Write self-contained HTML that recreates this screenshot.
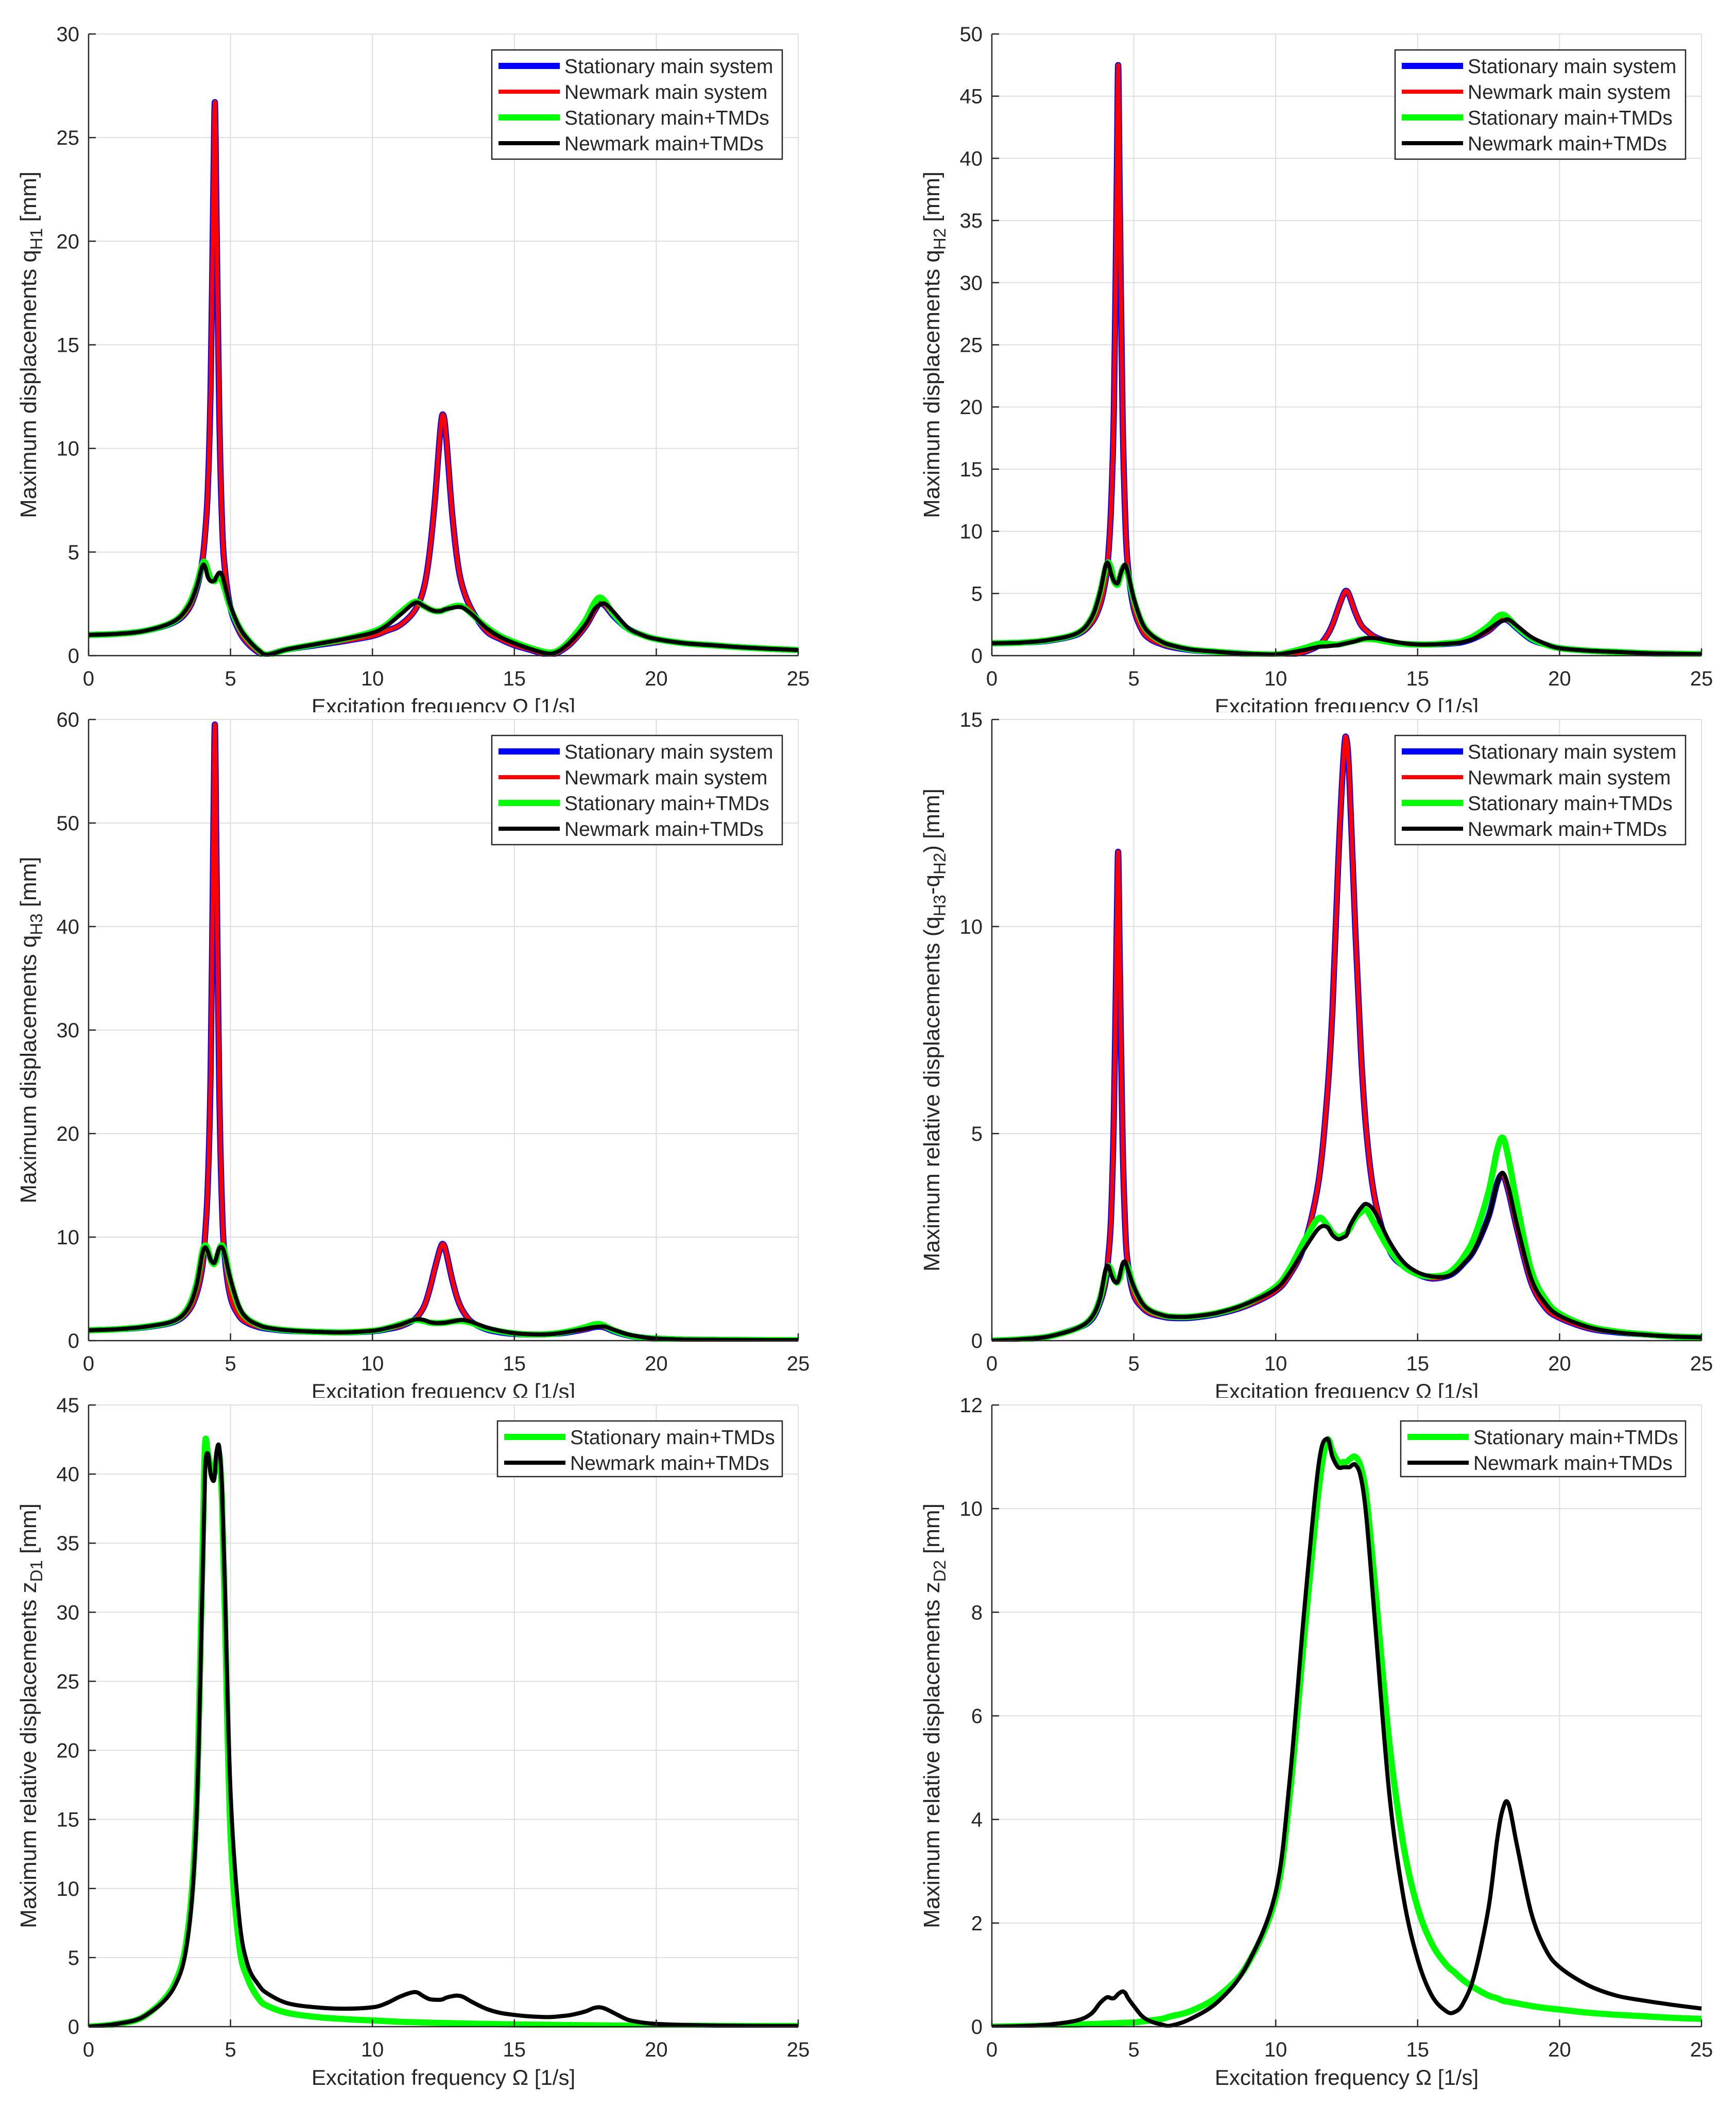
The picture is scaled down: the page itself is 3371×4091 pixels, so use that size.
<!DOCTYPE html>
<html><head><meta charset="utf-8"><style>
html,body{margin:0;padding:0;background:#fff}
svg{display:block}
text{font-family:"Liberation Sans",Arial,sans-serif;fill:#262626}
</style></head><body>
<svg id="fig" xmlns="http://www.w3.org/2000/svg" width="3371" height="4091" viewBox="0 0 3371 4091"></svg>
<script>
// shared excitation frequency samples [1/s]
const freq = [0,1,2,3,3.5,3.8,4.0,4.1,4.2,4.3,4.4,4.45,4.5,4.6,4.7,4.8,5,5.3,5.6,6,6.3,7,8,9,10,10.5,11,11.5,11.8,12,12.2,12.4,12.5,12.6,12.8,13,13.2,13.5,14,14.5,15,15.5,16,16.3,16.6,17,17.5,17.8,18,18.2,18.5,19,19.5,20,21,22,23,24,25];
const xTicks = [0,5,10,15,20,25];
const legendLabels4 = ["Stationary main system","Newmark main system","Stationary main+TMDs","Newmark main+TMDs"];
const legendLabels2 = ["Stationary main+TMDs","Newmark main+TMDs"];

// panel 1: q_H1
const p1StatMain = [1.0,1.05,1.2,1.6,2.2,3.2,4.5,5.8,8,13,23,26.7,22,12,6.5,4.2,2.3,1.2,0.6,0.15,0.05,0.3,0.5,0.7,0.95,1.2,1.5,2.2,3.2,4.8,7.5,11,11.6,10.5,7,4.5,3.2,2.2,1.2,0.8,0.5,0.3,0.1,0.05,0.2,0.6,1.4,2.1,2.5,2.4,1.9,1.3,1.0,0.8,0.6,0.5,0.4,0.33,0.27];
const p1NewMain = [1.0,1.05,1.2,1.6,2.2,3.2,4.5,5.8,8,13,23,26.7,22,12,6.5,4.2,2.3,1.2,0.6,0.15,0.05,0.3,0.5,0.7,0.95,1.2,1.5,2.2,3.2,4.8,7.5,11,11.6,10.5,7,4.5,3.2,2.2,1.2,0.8,0.5,0.3,0.1,0.05,0.2,0.6,1.4,2.1,2.5,2.4,1.9,1.3,1.0,0.8,0.6,0.5,0.4,0.33,0.27];
const p1StatTmd = [1.0,1.05,1.2,1.65,2.4,3.4,4.4,4.5,4.1,3.7,3.6,3.6,3.7,3.8,3.6,3.2,2.3,1.4,0.8,0.25,0.05,0.3,0.55,0.8,1.15,1.5,2.1,2.6,2.4,2.25,2.15,2.15,2.2,2.25,2.35,2.4,2.35,2.0,1.4,0.95,0.65,0.4,0.2,0.15,0.3,0.8,1.7,2.5,2.8,2.6,2.0,1.3,1.0,0.8,0.6,0.5,0.4,0.33,0.27];
const p1NewTmd = [1.0,1.05,1.2,1.65,2.35,3.3,4.3,4.3,3.8,3.6,3.6,3.65,3.8,4.0,3.9,3.4,2.4,1.4,0.8,0.25,0.05,0.3,0.55,0.8,1.1,1.45,2.0,2.55,2.4,2.25,2.15,2.15,2.2,2.25,2.3,2.35,2.3,2.0,1.35,0.9,0.6,0.35,0.15,0.1,0.25,0.7,1.5,2.2,2.45,2.5,2.1,1.35,1.0,0.8,0.6,0.5,0.4,0.33,0.27];
const p1YTicks = [0,5,10,15,20,25,30];

// panel 2: q_H2
const p2StatMain = [1.0,1.05,1.2,1.7,2.6,4,6,8,12,20,38,47.5,38,20,11,7,3.8,2,1.3,0.9,0.7,0.45,0.3,0.15,0.05,0.1,0.3,0.8,1.6,2.5,3.8,5,5.2,4.8,3.5,2.5,2,1.5,1.1,0.95,0.9,0.9,0.95,1.0,1.1,1.4,2.0,2.6,2.9,2.8,2.2,1.3,0.9,0.6,0.4,0.3,0.2,0.15,0.12];
const p2NewMain = [1.0,1.05,1.2,1.7,2.6,4,6,8,12,20,38,47.5,38,20,11,7,3.8,2,1.3,0.9,0.7,0.45,0.3,0.15,0.05,0.1,0.3,0.8,1.6,2.5,3.8,5,5.2,4.8,3.5,2.5,2,1.5,1.1,0.95,0.9,0.9,0.95,1.0,1.1,1.4,2.0,2.6,2.9,2.8,2.2,1.3,0.9,0.6,0.4,0.3,0.2,0.15,0.12];
const p2StatTmd = [1.0,1.05,1.25,1.8,3,5,7,7.5,7,6,5.7,5.8,6.2,7,7.2,6.5,4.5,2.6,1.7,1.1,0.85,0.5,0.3,0.15,0.1,0.3,0.6,0.95,0.95,0.9,0.9,1.0,1.05,1.1,1.2,1.3,1.35,1.3,1.1,0.95,0.9,0.9,1.0,1.05,1.2,1.6,2.4,3.1,3.3,3.0,2.3,1.4,0.9,0.6,0.4,0.3,0.2,0.15,0.12];
const p2NewTmd = [1.0,1.05,1.25,1.8,3,5,7.2,7.4,6.6,6.0,5.8,5.9,6.3,7.0,7.3,6.6,4.6,2.6,1.7,1.1,0.85,0.5,0.3,0.15,0.1,0.25,0.45,0.7,0.75,0.8,0.85,0.95,1.0,1.05,1.15,1.3,1.4,1.4,1.2,1.0,0.9,0.9,0.95,1.0,1.1,1.4,2.1,2.6,2.8,2.9,2.4,1.5,0.95,0.6,0.4,0.3,0.2,0.15,0.12];
const p2YTicks = [0,5,10,15,20,25,30,35,40,45,50];

// panel 3: q_H3
const p3StatMain = [1.0,1.1,1.3,1.8,2.8,4.5,7,10,15,26,50,59.5,48,25,13,8,4.2,2.4,1.7,1.3,1.15,0.95,0.85,0.8,0.9,1.1,1.4,2.1,3.2,4.8,7,9,9.3,8.5,6,4,2.8,1.8,1.1,0.8,0.65,0.6,0.6,0.65,0.7,0.85,1.1,1.3,1.35,1.25,0.9,0.5,0.3,0.2,0.1,0.08,0.06,0.05,0.05];
const p3NewMain = [1.0,1.1,1.3,1.8,2.8,4.5,7,10,15,26,50,59.5,48,25,13,8,4.2,2.4,1.7,1.3,1.15,0.95,0.85,0.8,0.9,1.1,1.4,2.1,3.2,4.8,7,9,9.3,8.5,6,4,2.8,1.8,1.1,0.8,0.65,0.6,0.6,0.65,0.7,0.85,1.1,1.3,1.35,1.25,0.9,0.5,0.3,0.2,0.1,0.08,0.06,0.05,0.05];
const p3StatTmd = [1.0,1.1,1.35,1.9,3.2,5.5,8.5,9.2,8.8,7.8,7.4,7.5,7.8,8.8,9.2,8.5,5.8,3.2,2.1,1.5,1.25,1.0,0.85,0.8,0.95,1.2,1.6,2.0,1.9,1.75,1.7,1.7,1.72,1.75,1.85,1.9,1.9,1.7,1.2,0.9,0.7,0.6,0.6,0.65,0.75,0.95,1.3,1.55,1.6,1.4,1.0,0.55,0.3,0.2,0.1,0.08,0.06,0.05,0.05];
const p3NewTmd = [1.0,1.1,1.35,1.9,3.1,5.3,8.3,9.0,8.6,7.8,7.5,7.6,8.0,8.9,9.0,8.3,5.9,3.3,2.1,1.5,1.25,1.0,0.85,0.8,0.95,1.2,1.55,2.05,2.0,1.8,1.7,1.7,1.72,1.75,1.85,1.95,2.0,1.8,1.3,0.95,0.72,0.62,0.6,0.63,0.72,0.9,1.15,1.3,1.35,1.35,1.05,0.6,0.35,0.2,0.1,0.08,0.06,0.05,0.05];
const p3YTicks = [0,10,20,30,40,50,60];

// panel 4: q_H3 - q_H2
const p4StatMain = [0,0.03,0.1,0.3,0.5,0.9,1.4,2,3,5.5,10,11.8,9.5,5,2.7,1.8,1.1,0.8,0.65,0.58,0.55,0.55,0.65,0.85,1.2,1.6,2.3,3.8,5.8,8,11.5,14.2,14.5,13.5,10,7,5,3.4,2.2,1.8,1.6,1.5,1.55,1.65,1.85,2.2,3.0,3.8,4.0,3.6,2.7,1.4,0.8,0.55,0.3,0.2,0.15,0.1,0.08];
const p4NewMain = [0,0.03,0.1,0.3,0.5,0.9,1.4,2,3,5.5,10,11.8,9.5,5,2.7,1.8,1.1,0.8,0.65,0.58,0.55,0.55,0.65,0.85,1.2,1.6,2.3,3.8,5.8,8,11.5,14.2,14.5,13.5,10,7,5,3.4,2.2,1.8,1.6,1.5,1.55,1.65,1.85,2.2,3.0,3.8,4.0,3.6,2.7,1.4,0.8,0.55,0.3,0.2,0.15,0.1,0.08];
const p4StatTmd = [0,0.03,0.1,0.3,0.55,1.0,1.6,1.8,1.7,1.5,1.4,1.45,1.5,1.75,1.85,1.75,1.3,0.9,0.72,0.62,0.58,0.58,0.68,0.9,1.3,1.75,2.4,2.95,2.8,2.6,2.5,2.55,2.6,2.7,2.95,3.1,3.15,2.8,2.2,1.8,1.6,1.55,1.6,1.75,2.0,2.5,3.6,4.6,4.9,4.4,3.3,1.7,1.0,0.65,0.35,0.22,0.15,0.1,0.08];
const p4NewTmd = [0,0.03,0.1,0.3,0.55,1.0,1.7,1.8,1.6,1.45,1.4,1.45,1.55,1.85,1.9,1.7,1.3,0.9,0.72,0.62,0.58,0.58,0.68,0.9,1.25,1.65,2.2,2.7,2.75,2.55,2.45,2.5,2.55,2.75,3.0,3.2,3.3,3.1,2.4,1.9,1.65,1.55,1.55,1.65,1.85,2.2,3.0,3.8,4.05,3.7,2.8,1.5,0.9,0.6,0.33,0.2,0.14,0.1,0.08];
const p4YTicks = [0,5,10,15];

// panel 5: z_D1
const p5StatTmd = [0,0.2,0.8,3,7,16,33,42,41.5,40.5,40,40.2,41,41.5,38,30,14,6,3.5,2.0,1.5,1.0,0.7,0.55,0.45,0.4,0.35,0.32,0.3,0.29,0.28,0.27,0.27,0.26,0.25,0.24,0.23,0.22,0.2,0.18,0.16,0.15,0.14,0.13,0.12,0.11,0.1,0.1,0.09,0.09,0.08,0.08,0.07,0.07,0.06,0.06,0.05,0.05,0.05];
const p5NewTmd = [0,0.2,0.8,2.8,6.5,15,31,40,41.5,40,39.5,40,41.5,42,39,32,17,8,4.5,3.0,2.4,1.7,1.4,1.3,1.4,1.7,2.2,2.5,2.2,2.0,1.95,1.95,2.0,2.1,2.2,2.25,2.15,1.8,1.3,1.0,0.85,0.75,0.7,0.7,0.75,0.85,1.1,1.35,1.4,1.3,1.0,0.5,0.3,0.2,0.12,0.08,0.06,0.05,0.05];
const p5YTicks = [0,5,10,15,20,25,30,35,40,45];

// panel 6: z_D2
const p6StatTmd = [0,0.01,0.02,0.04,0.05,0.055,0.06,0.062,0.064,0.066,0.068,0.07,0.072,0.074,0.076,0.078,0.08,0.1,0.12,0.15,0.2,0.3,0.6,1.2,2.5,4.5,7.5,10.3,11.3,11.1,10.9,10.9,10.9,10.95,11.0,10.8,10.2,8.5,5.5,3.5,2.3,1.6,1.2,1.05,0.9,0.75,0.6,0.55,0.5,0.48,0.45,0.4,0.36,0.33,0.27,0.23,0.2,0.17,0.15];
const p6NewTmd = [0,0.01,0.04,0.12,0.25,0.45,0.55,0.57,0.55,0.55,0.6,0.63,0.65,0.68,0.65,0.55,0.4,0.2,0.1,0.04,0.02,0.15,0.5,1.2,2.6,4.8,8,10.8,11.35,11.0,10.8,10.8,10.8,10.8,10.85,10.6,9.8,7.8,4.5,2.5,1.3,0.6,0.3,0.28,0.45,1.0,2.3,3.6,4.2,4.3,3.5,2.2,1.5,1.15,0.8,0.6,0.5,0.42,0.35];
const p6YTicks = [0,2,4,6,8,10,12];

const NS = "http://www.w3.org/2000/svg";
const fig = document.getElementById('fig');
function mk(tag, attrs, parent){
  const e = document.createElementNS(NS, tag);
  for (const k in attrs) e.setAttribute(k, attrs[k]);
  (parent||fig).appendChild(e);
  return e;
}
const STYLE = {
  statMain:{color:"#0000ff", w:12},
  newMain:{color:"#ff0000", w:8},
  statTmd:{color:"#00ff00", w:12},
  newTmd:{color:"#000000", w:8}
};
function smoothPath(pts){
  let d = "M" + pts[0][0].toFixed(1) + "," + pts[0][1].toFixed(1);
  for (let i=0;i<pts.length-1;i++){
    const p0=pts[Math.max(0,i-1)], p1=pts[i], p2=pts[i+1], p3=pts[Math.min(pts.length-1,i+2)];
    const c1x=p1[0]+(p2[0]-p0[0])/6, c1y=p1[1]+(p2[1]-p0[1])/6;
    const c2x=p2[0]-(p3[0]-p1[0])/6, c2y=p2[1]-(p3[1]-p1[1])/6;
    d += " C"+c1x.toFixed(1)+","+c1y.toFixed(1)+" "+c2x.toFixed(1)+","+c2y.toFixed(1)+" "+p2[0].toFixed(1)+","+p2[1].toFixed(1);
  }
  return d;
}
function drawPanel(id, L, T, W, H, yTicks, ylab, series, legendLabels, clipTop){
  const g = mk('g', {});
  
  
  const xmax = 25, ymax = yTicks[yTicks.length-1];
  const sx = v => L + v/xmax*W;
  const sy = v => T + H - v/ymax*H;
  const grid = mk('g', {stroke:"#dedede","stroke-width":2}, g);
  
  
  xTicks.forEach(t => { if (t>0) mk('line',{x1:sx(t),y1:T,x2:sx(t),y2:T+H},grid); });
  yTicks.forEach(t => { if (t>0) mk('line',{x1:L,y1:sy(t),x2:L+W,y2:sy(t)},grid); });
  const cid = 'clip-'+id;
  const cp = mk('clipPath',{id:cid}, g);
  mk('rect',{x:L,y:T-2,width:W+2,height:H+4},cp);
  const lines = mk('g',{"clip-path":"url(#"+cid+")",fill:"none","stroke-linejoin":"round","stroke-linecap":"butt"}, g);
  
  
  series.forEach(s => {
    const n = Math.min(freq.length, s.data.length);
    const pts = [];
    for (let i=0;i<n;i++) pts.push([sx(freq[i]), sy(s.data[i])]);
    const p = mk('path',{d:smoothPath(pts),stroke:STYLE[s.kind].color,"stroke-width":STYLE[s.kind].w},lines);
    
    
  });
  const ax = mk('g',{stroke:"#262626","stroke-width":2.5,fill:"none"}, g);
  
  
  mk('line',{x1:L,y1:T,x2:L,y2:T+H},ax);
  mk('line',{x1:L,y1:T+H,x2:L+W,y2:T+H},ax);
  xTicks.forEach(t => mk('line',{x1:sx(t),y1:T+H,x2:sx(t),y2:T+H-14},ax));
  yTicks.forEach(t => mk('line',{x1:L,y1:sy(t),x2:L+14,y2:sy(t)},ax));
  xTicks.forEach(t => {
    const e = mk('text',{x:sx(t),y:T+H+58,"font-size":40,"text-anchor":"middle"},g);
    e.textContent = t;
    
    
  });
  yTicks.forEach(t => {
    const e = mk('text',{x:L-18,y:sy(t)+14,"font-size":40,"text-anchor":"end"},g);
    e.textContent = t;
    
    
  });
  const xcid = 'xclip-'+id;
  const xcp = mk('clipPath',{id:xcid}, g);
  mk('rect',{x:L-200,y:T+H,width:W+400,height:clipTop-(T+H)},xcp);
  const xl = mk('text',{x:L+W/2,y:T+H+113,"font-size":42,"text-anchor":"middle","clip-path":"url(#"+xcid+")"},g);
  xl.textContent = "Excitation frequency \u03A9 [1/s]";
  
  
  const yx = L - 102, yc = T + H/2;
  const yl = mk('text',{x:yx,y:yc,"font-size":44,"text-anchor":"middle",transform:"rotate(-90 "+yx+" "+yc+")"},g);
  
  
  ylab.forEach(part => {
    const ts = mk('tspan', part.sub ? {"font-size":33,dy:12} : (part.up ? {dy:-12} : {}), yl);
    ts.textContent = part.t;
  });
  const n = legendLabels.length;
  const lw = n===4 ? 564 : 553, lh = n===4 ? 212 : 108;
  const lx = L + W - 31 - lw, ly = T + 31;
  const lg = mk('g',{},g);
  
  
  mk('rect',{x:lx,y:ly,width:lw,height:lh,fill:"#fff",stroke:"#262626","stroke-width":2.5},lg);
  const kinds = n===4 ? ["statMain","newMain","statTmd","newTmd"] : ["statTmd","newTmd"];
  legendLabels.forEach((lab,i) => {
    const cy = ly + 31 + i*50;
    const ent = mk('g',{},lg);
    
    
    mk('line',{x1:lx+13,y1:cy,x2:lx+132,y2:cy,stroke:STYLE[kinds[i]].color,"stroke-width":STYLE[kinds[i]].w},ent);
    const t = mk('text',{x:lx+141,y:cy+14,"font-size":39,fill:"#000"},ent);
    t.textContent = lab;
  });
}
const LX = 172, RX = 1926, PW = 1378, PH = 1207;
const R1 = 66, R2 = 1397, R3 = 2728;
drawPanel('panel-qh1', LX, R1, PW, PH, p1YTicks,
  [{t:"Maximum displacements q"},{t:"H1",sub:true},{t:" [mm]",up:true}],
  [{kind:"statMain",name:"stationary-main-line",data:p1StatMain},{kind:"newMain",name:"newmark-main-line",data:p1NewMain},{kind:"statTmd",name:"stationary-tmd-line",data:p1StatTmd},{kind:"newTmd",name:"newmark-tmd-line",data:p1NewTmd}],
  legendLabels4, R2-14);
drawPanel('panel-qh2', RX, R1, PW, PH, p2YTicks,
  [{t:"Maximum displacements q"},{t:"H2",sub:true},{t:" [mm]",up:true}],
  [{kind:"statMain",name:"stationary-main-line",data:p2StatMain},{kind:"newMain",name:"newmark-main-line",data:p2NewMain},{kind:"statTmd",name:"stationary-tmd-line",data:p2StatTmd},{kind:"newTmd",name:"newmark-tmd-line",data:p2NewTmd}],
  legendLabels4, R2-14);
drawPanel('panel-qh3', LX, R2, PW, PH-1, p3YTicks,
  [{t:"Maximum displacements q"},{t:"H3",sub:true},{t:" [mm]",up:true}],
  [{kind:"statMain",name:"stationary-main-line",data:p3StatMain},{kind:"newMain",name:"newmark-main-line",data:p3NewMain},{kind:"statTmd",name:"stationary-tmd-line",data:p3StatTmd},{kind:"newTmd",name:"newmark-tmd-line",data:p3NewTmd}],
  legendLabels4, R3-14);
drawPanel('panel-qh3-qh2', RX, R2, PW, PH-1, p4YTicks,
  [{t:"Maximum relative displacements (q"},{t:"H3",sub:true},{t:"-q",up:true},{t:"H2",sub:true},{t:") [mm]",up:true}],
  [{kind:"statMain",name:"stationary-main-line",data:p4StatMain},{kind:"newMain",name:"newmark-main-line",data:p4NewMain},{kind:"statTmd",name:"stationary-tmd-line",data:p4StatTmd},{kind:"newTmd",name:"newmark-tmd-line",data:p4NewTmd}],
  legendLabels4, R3-14);
drawPanel('panel-zd1', LX, R3, PW, PH, p5YTicks,
  [{t:"Maximum relative displacements z"},{t:"D1",sub:true},{t:" [mm]",up:true}],
  [{kind:"statTmd",name:"stationary-tmd-line",data:p5StatTmd},{kind:"newTmd",name:"newmark-tmd-line",data:p5NewTmd}],
  legendLabels2, 4091);
drawPanel('panel-zd2', RX, R3, PW, PH, p6YTicks,
  [{t:"Maximum relative displacements z"},{t:"D2",sub:true},{t:" [mm]",up:true}],
  [{kind:"statTmd",name:"stationary-tmd-line",data:p6StatTmd},{kind:"newTmd",name:"newmark-tmd-line",data:p6NewTmd}],
  legendLabels2, 4091);
</script>
</body></html>
